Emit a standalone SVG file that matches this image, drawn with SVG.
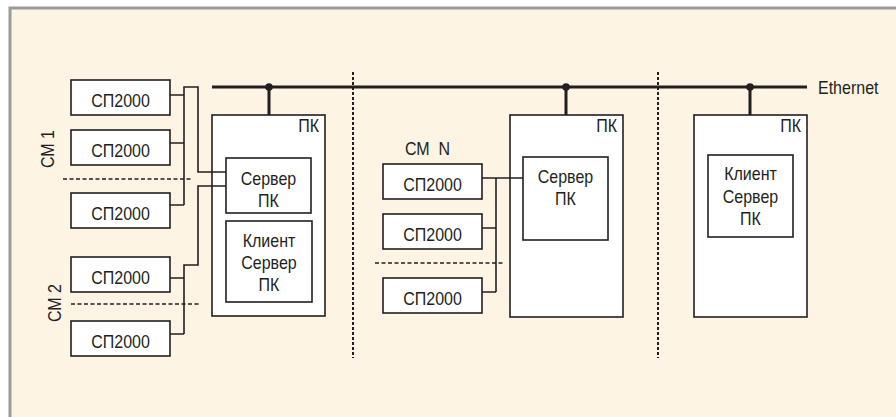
<svg xmlns="http://www.w3.org/2000/svg" width="896" height="417" viewBox="0 0 896 417">
<defs>
<style>
.box{fill:#fff;stroke:#231f20;stroke-width:1.6}
.t{font-family:"Liberation Sans",Arial,sans-serif;font-size:18px;fill:#231f20}
.c{text-anchor:middle}
.r{text-anchor:end}
.ln{fill:none;stroke:#231f20;stroke-width:1.6}
.eth{fill:none;stroke:#231f20;stroke-width:3}
.dash{fill:none;stroke:#231f20;stroke-width:1.5;stroke-dasharray:4 2.5}
.sep{fill:none;stroke:#231f20;stroke-width:2;stroke-dasharray:3 2}
</style>
</defs>
<rect x="0" y="0" width="896" height="417" fill="#fff"/>
<rect x="10" y="8" width="900" height="420" fill="#fdf4e3" stroke="#9a9a9a" stroke-width="3"/>

<g id="separators">
<line class="sep" x1="353" y1="72" x2="353" y2="358"/>
<line class="sep" x1="658" y1="72" x2="658" y2="358"/>
<line class="dash" x1="63" y1="179" x2="192" y2="179"/>
<line class="dash" x1="71" y1="304" x2="199" y2="304"/>
<line class="dash" x1="375" y1="263" x2="503" y2="263"/>
</g>

<g id="labels">
<text class="t c" transform="translate(54,149) rotate(-90) scale(0.89,1)">СМ 1</text>
<text class="t c" transform="translate(61,303) rotate(-90) scale(0.89,1)">СМ 2</text>
<text class="t" transform="translate(405,155) scale(0.89,1)" style="white-space:pre">СМ  N</text>
<text class="t" transform="translate(818,94) scale(0.89,1)">Ethernet</text>
</g>

<g id="sp1"><rect class="box" x="71" y="80" width="99" height="35"/><text class="t c" transform="translate(120.5,107) scale(0.89,1)">СП2000</text></g>
<g id="sp2"><rect class="box" x="71" y="130" width="99" height="35"/><text class="t c" transform="translate(120.5,157) scale(0.89,1)">СП2000</text></g>
<g id="sp3"><rect class="box" x="71" y="193" width="99" height="35"/><text class="t c" transform="translate(120.5,220) scale(0.89,1)">СП2000</text></g>
<g id="sp4"><rect class="box" x="71" y="257" width="99" height="35"/><text class="t c" transform="translate(120.5,284) scale(0.89,1)">СП2000</text></g>
<g id="sp5"><rect class="box" x="71" y="321" width="99" height="35"/><text class="t c" transform="translate(120.5,348) scale(0.89,1)">СП2000</text></g>

<g id="pk1">
<rect class="box" x="212" y="115" width="113" height="201"/>
<text class="t r" transform="translate(319,132) scale(0.89,1)">ПК</text>
</g>
<g id="server1">
<rect class="box" x="226" y="158" width="85" height="55"/>
<text class="t c" transform="translate(268.5,185) scale(0.89,1)">Сервер</text>
<text class="t c" transform="translate(268.5,207) scale(0.89,1)">ПК</text>
</g>
<g id="client1">
<rect class="box" x="226" y="221" width="86" height="81"/>
<text class="t c" transform="translate(269,247) scale(0.89,1)">Клиент</text>
<text class="t c" transform="translate(269,269) scale(0.89,1)">Сервер</text>
<text class="t c" transform="translate(269,291) scale(0.89,1)">ПК</text>
</g>

<g id="spn1"><rect class="box" x="383" y="164" width="99" height="35"/><text class="t c" transform="translate(432.5,191) scale(0.89,1)">СП2000</text></g>
<g id="spn2"><rect class="box" x="383" y="214" width="99" height="35"/><text class="t c" transform="translate(432.5,241) scale(0.89,1)">СП2000</text></g>
<g id="spn3"><rect class="box" x="383" y="278" width="99" height="35"/><text class="t c" transform="translate(432.5,305) scale(0.89,1)">СП2000</text></g>

<g id="pk2">
<rect class="box" x="510" y="115" width="113" height="202"/>
<text class="t r" transform="translate(617,132) scale(0.89,1)">ПК</text>
</g>
<g id="server2">
<rect class="box" x="523" y="157" width="85" height="83"/>
<text class="t c" transform="translate(565.5,183) scale(0.89,1)">Сервер</text>
<text class="t c" transform="translate(565.5,205) scale(0.89,1)">ПК</text>
</g>

<g id="pk3">
<rect class="box" x="694" y="115" width="113" height="202"/>
<text class="t r" transform="translate(801,132) scale(0.89,1)">ПК</text>
</g>
<g id="client3">
<rect class="box" x="708" y="155" width="85" height="82"/>
<text class="t c" transform="translate(750.5,180) scale(0.89,1)">Клиент</text>
<text class="t c" transform="translate(750.5,203) scale(0.89,1)">Сервер</text>
<text class="t c" transform="translate(750.5,225) scale(0.89,1)">ПК</text>
</g>

<g id="connectors">
<line class="eth" x1="212" y1="87" x2="807" y2="87"/>
<line class="eth" x1="269" y1="87" x2="269" y2="115"/>
<line class="eth" x1="566" y1="87" x2="566" y2="115"/>
<line class="eth" x1="750" y1="87" x2="750" y2="115"/>
<circle cx="269" cy="87" r="3.8" fill="#231f20"/>
<circle cx="566" cy="87" r="3.8" fill="#231f20"/>
<circle cx="750" cy="87" r="3.8" fill="#231f20"/>
<path class="ln" d="M170 95H184M170 143H184M170 205H184M184 205V87H198V172H226"/>
<path class="ln" d="M170 278H184M170 334H184M184 334V265H198V186H226"/>
<path class="ln" d="M482 178H523M482 228H496M482 292H496M496 178V292"/>
</g>
</svg>
